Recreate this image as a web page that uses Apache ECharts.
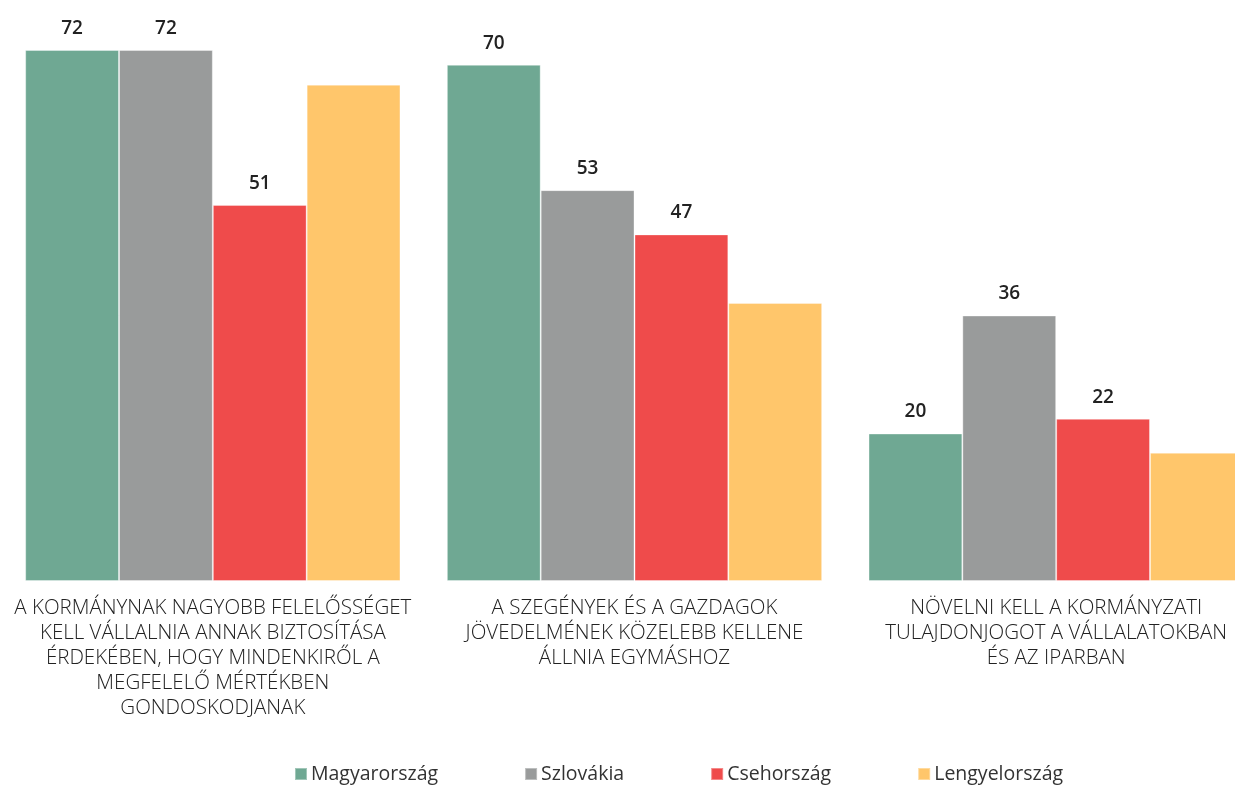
<!DOCTYPE html>
<html lang="hu">
<head>
<meta charset="UTF-8">
<title>Kormány szerepe</title>
<script src="https://cdn.jsdelivr.net/npm/echarts@6/dist/echarts.min.js"></script>
<style>
  html, body { margin: 0; padding: 0; background: #fff; }
</style>
</head>
<body>
<div id="main" style="width:1235px;height:786px;"></div>
<script type="text/javascript">
    // kategóriák (a tengely alatti szövegek)
    var categories = [
        'A KORMÁNYNAK NAGYOBB FELELŐSSÉGET\nKELL VÁLLALNIA ANNAK BIZTOSÍTÁSA\nÉRDEKÉBEN, HOGY MINDENKIRŐL A\nMEGFELELŐ MÉRTÉKBEN\nGONDOSKODJANAK',
        'A SZEGÉNYEK ÉS A GAZDAGOK\nJÖVEDELMÉNEK KÖZELEBB KELLENE\nÁLLNIA EGYMÁSHOZ',
        'NÖVELNI KELL A KORMÁNYZATI\nTULAJDONJOGOT A VÁLLALATOKBAN\nÉS AZ IPARBAN'
    ];
    var seriesNames = ['Magyarország', 'Szlovákia', 'Csehország', 'Lengyelország'];
    var magyarorszag = [72, 70, 20];
    var szlovakia = [72, 53, 36];
    var csehorszag = [51, 47, 22];
    var lengyelorszag = [67.3, 37.7, 17.4];   // nincs felirat, a képről becsülve
    var colors = ['#6fa893', '#999b9b', '#ef4b4b', '#ffc66b'];

    var myChart = echarts.init(document.getElementById('main'));

    function makeSeries(i, data, showLabel) {
        return {
            name: seriesNames[i],
            type: 'bar',
            data: data,
            barGap: '0%',
            barCategoryGap: '11%',
            itemStyle: {
                color: colors[i],
                borderColor: 'rgba(255,255,255,0.35)',
                borderWidth: 1
            },
            label: {
                show: showLabel,
                position: 'top',
                distance: 12,
                color: '#222',
                fontSize: 19,
                fontFamily: 'Open Sans',
                fontWeight: 600
            }
        };
    }

    var option = {
        animation: false,
        backgroundColor: '#fff',
        grid: {
            left: 2,
            width: 1265,
            top: 50,
            bottom: 205,
            containLabel: false,
            outerBoundsMode: 'none'
        },
        legend: {
            left: 289,
            top: 759,
            itemWidth: 12,
            itemHeight: 12,
            itemGap: 86,
            icon: 'rect',
            textStyle: {
                color: '#333',
                fontSize: 19.5,
                fontFamily: 'Open Sans',
                padding: [0, 0, 0, -1]
            },
            data: seriesNames
        },
        xAxis: {
            type: 'category',
            data: categories,
            axisLine: { show: false },
            axisTick: { show: false },
            axisLabel: {
                interval: 0,
                margin: 15,
                color: '#222',
                fontSize: 20.5,
                lineHeight: 25,
                fontFamily: 'Open Sans',
                fontWeight: 300,
                align: 'center'
            }
        },
        yAxis: {
            type: 'value',
            min: 0,
            max: 72,
            show: false,
            splitLine: { show: false }
        },
        series: [
            makeSeries(0, magyarorszag, true),
            makeSeries(1, szlovakia, true),
            makeSeries(2, csehorszag, true),
            makeSeries(3, lengyelorszag, false)
        ]
    };

    myChart.setOption(option);
</script>
</body>
</html>
